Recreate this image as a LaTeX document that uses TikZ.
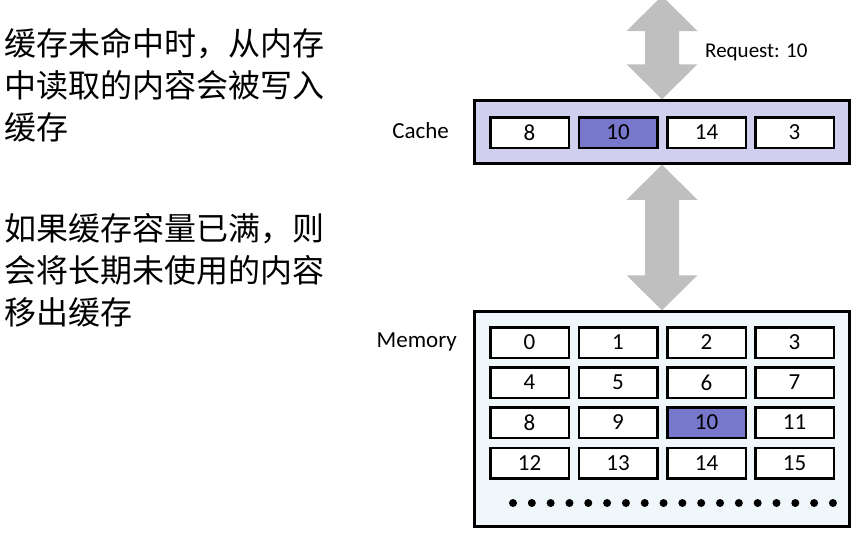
\documentclass[tikz,border=0pt]{standalone}
\usepackage{fontspec}
\setmainfont{Carlito}
\newfontfamily\cjk{Noto Sans CJK SC}
\usetikzlibrary{calc,backgrounds}
\definecolor{cachefill}{HTML}{D0D0EE}
\definecolor{hifill}{HTML}{7777CC}
\definecolor{memfill}{HTML}{F0F7FA}
\definecolor{arrowgray}{HTML}{BFBFBF}
\tikzset{
  cell/.style={draw, line width=2.5pt, fill=white, minimum width=78.5pt,
    minimum height=30.5pt, inner sep=0pt, font=\fontsize{23}{27}\selectfont},
  hicell/.style={cell, fill=hifill},
  container/.style={draw, line width=2.5pt, minimum width=375pt, inner sep=0pt},
  lbl/.style={inner sep=0pt, font=\fontsize{23}{27}\selectfont},
  reqlbl/.style={inner sep=0pt, font=\fontsize{21}{25}\selectfont},
  zh/.style={inner sep=0pt, anchor=base west, font=\cjk\fontsize{32}{42}\selectfont},
  bigarrow/.style={fill=arrowgray},
}
% double-headed block arrow from #1 (top tip) to #2 (bottom tip)
\newcommand\bigdarrow[2]{%
  \fill[bigarrow] let \p1=(#1), \p2=(#2) in
    (\x1,\y1) -- (\x1+35.5pt,\y1-35pt) -- (\x1+17pt,\y1-35pt) --
    (\x1+17pt,\y2+35pt) -- (\x1+35.5pt,\y2+35pt) -- (\x1,\y2) --
    (\x1-35.5pt,\y2+35pt) -- (\x1-17pt,\y2+35pt) -- (\x1-17pt,\y1-35pt) --
    (\x1-35.5pt,\y1-35pt) -- cycle;}
\begin{document}
\begin{tikzpicture}[x=1pt,y=-1pt]
\useasboundingbox (0,0) rectangle (865,542);
\clip (0,0) rectangle (865,542);

% left texts
\node[zh] (t1) at (4,55) {缓存未命中时，从内存};
\node[zh] (t2) at (4,97) {中读取的内容会被写入};
\node[zh] (t3) at (4,139) {缓存};
\node[zh] (t4) at (4,240) {如果缓存容量已满，则};
\node[zh] (t5) at (4,282) {会将长期未使用的内容};
\node[zh] (t6) at (4,324) {移出缓存};

% cache
\node[container, fill=cachefill, minimum height=63pt] (cache) at (662,132) {};
\node[cell] (c1) at (529.5,132.5) {8};
\node[hicell] (c2) at (618,132.5) {10};
\node[cell] (c3) at (706.5,132.5) {14};
\node[cell] (c4) at (794.5,132.5) {3};
\node[lbl, anchor=base east] (cachelbl) at (449,138) {Cache};

% memory
\node[container, fill=memfill, minimum height=215pt] (mem) at (662,419) {};
\foreach \r/\yy in {0/342.5,1/382.5,2/422.5,3/463}{
  \foreach \c/\xx in {0/529.5,1/618,2/706.5,3/794.5}{
    \pgfmathtruncatemacro\n{4*\r+\c}
    \ifnum\n=10
      \node[hicell] (m\n) at (\xx,\yy) {\n};
    \else
      \node[cell] (m\n) at (\xx,\yy) {\n};
    \fi
  }
}
\foreach \i in {0,...,17}{
  \fill (513+\i*18.82,503) circle (4pt);
}
\node[lbl, anchor=base east] (memlbl) at (457,347) {Memory};

% request
\node[reqlbl, anchor=base west] (req) at (705,57) {Request: 10};
\coordinate (reqtop) at (662,-4);

% arrows
\begin{scope}[on background layer]
  \bigdarrow{reqtop}{cache.north}
  \bigdarrow{cache.south}{mem.north}
\end{scope}
\end{tikzpicture}
\end{document}
